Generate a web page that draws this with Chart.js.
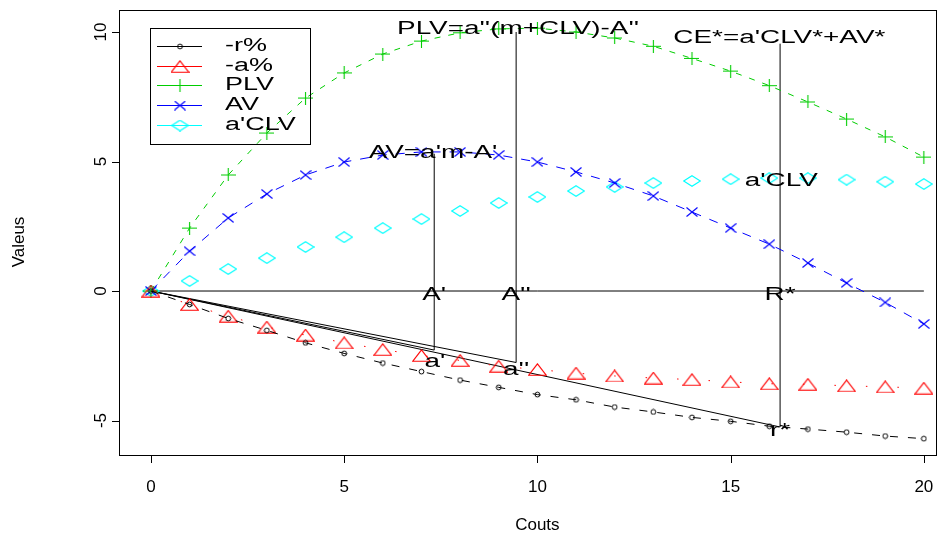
<!DOCTYPE html>
<html><head><meta charset="utf-8">
<script src="https://cdn.jsdelivr.net/npm/chart.js@4.4.1/dist/chart.umd.min.js"></script>
<style>html,body{margin:0;padding:0;background:#fff;}#wrap{width:943px;height:535px;}</style>
</head><body><div id="wrap"><canvas id="c" width="943" height="535"></canvas></div>
<script>
// ---- data ----
const costs = [0,1,2,3,4,5,6,7,8,9,10,11,12,13,14,15,16,17,18,19,20];
const rPct  = [0,-0.52,-1.06,-1.52,-2.0,-2.41,-2.78,-3.11,-3.44,-3.72,-4.0,-4.2,-4.48,-4.67,-4.88,-5.03,-5.22,-5.33,-5.45,-5.6,-5.7];
const aPct  = [0,-0.52,-0.97,-1.39,-1.7,-2.0,-2.26,-2.49,-2.68,-2.9,-3.03,-3.17,-3.28,-3.36,-3.42,-3.51,-3.58,-3.6,-3.66,-3.7,-3.75];
const plv   = [0,2.43,4.48,6.1,7.45,8.42,9.15,9.65,9.97,10.12,10.15,10.0,9.77,9.45,8.98,8.49,7.93,7.3,6.64,5.95,5.17];
const av    = [0,1.54,2.82,3.75,4.48,4.98,5.25,5.37,5.37,5.25,4.98,4.6,4.17,3.67,3.05,2.43,1.81,1.08,0.31,-0.44,-1.27];
const aclv  = [0,0.39,0.85,1.27,1.7,2.08,2.43,2.78,3.09,3.4,3.63,3.86,4.02,4.17,4.25,4.32,4.36,4.36,4.3,4.22,4.13];
const seriesNames = ["-r%","-a%","PLV","AV","a'CLV"];
// reference marks (A', A'', R*)
const markX    = [7.33, 9.45, 16.28];
const markLow  = [-2.28, -2.76, -5.25];
const markHigh = [5.3, 10.0, 9.55];
const zeroLineX = [0, 20];
// annotations
const noteTexts = ["PLV=a''(m+CLV)-A''", "CE*=a'CLV*+AV*", "AV=a'm-A'", "a'CLV", "A'", "A''", "R*", "a'", "a''", "r*"];
const noteX = [9.5, 16.26, 7.3, 16.31, 7.33, 9.45, 16.28, 7.35, 9.45, 16.28];
const noteY = [10.12, 9.77, 5.33, 4.25, -0.17, -0.17, -0.17, -2.74, -3.05, -5.4];
// axes
const xTicks = [0,5,10,15,20];
const yTicks = [-5,0,5,10];
const xTitle = "Couts";
const yTitle = "Valeus";

// ---- styles ----
const colors = ["#000000","#FF0000","#00CD00","#0000FF","#00FFFF"];
const FONT = '17px "Liberation Sans", Arial, sans-serif';

function mk(w,h,draw){const c=document.createElement('canvas');c.width=w;c.height=h;const g=c.getContext('2d');draw(g,w,h);return c;}
const mCircle = mk(7,7,(g)=>{g.strokeStyle=colors[0];g.lineWidth=1;g.beginPath();g.arc(3.5,3.5,2.4,0,Math.PI*2);g.stroke();});
const mTri = mk(19,13,(g,w,h)=>{g.strokeStyle=colors[1];g.lineWidth=1.1;g.beginPath();g.moveTo(w/2,0.8);g.lineTo(w-0.8,h-0.8);g.lineTo(0.8,h-0.8);g.closePath();g.stroke();});
const mPlus = mk(15,13,(g,w,h)=>{g.strokeStyle=colors[2];g.lineWidth=1.1;g.beginPath();g.moveTo(0,6.5);g.lineTo(15,6.5);g.moveTo(7.5,0);g.lineTo(7.5,13);g.stroke();});
const mX = mk(12,10,(g,w,h)=>{g.strokeStyle=colors[3];g.lineWidth=1.1;g.beginPath();g.moveTo(0.5,0.5);g.lineTo(w-0.5,h-0.5);g.moveTo(w-0.5,0.5);g.lineTo(0.5,h-0.5);g.stroke();});
const mDia = mk(18,12,(g,w,h)=>{g.strokeStyle=colors[4];g.lineWidth=1.1;g.beginPath();g.moveTo(w/2,0.7);g.lineTo(w-0.7,h/2);g.lineTo(w/2,h-0.7);g.lineTo(0.7,h/2);g.closePath();g.stroke();});
const markers = [mCircle,mTri,mPlus,mX,mDia];
const dashes = [[8,10],[1.5,30],[6,8],[9,9],[]];
const values = [rPct,aPct,plv,av,aclv];

const pts = (xs,ys)=>xs.map((v,i)=>({x:v,y:ys[i]}));
const datasets = [];
values.forEach((vals,i)=>{
  datasets.push({label:seriesNames[i],data:pts(costs,vals),borderColor:colors[i],borderWidth:1,borderDash:dashes[i],
    showLine:i!==4,pointStyle:markers[i],pointRadius:5,fill:false,tension:0});
});
function seg(x0,y0,x1,y1){return {label:'',data:[{x:x0,y:y0},{x:x1,y:y1}],borderColor:'#000',borderWidth:1,pointRadius:0,showLine:true,fill:false};}
datasets.push(seg(zeroLineX[0],0,zeroLineX[1],0));
markX.forEach((mx,i)=>{
  datasets.push(seg(0,0,mx,markLow[i]));
  datasets.push(seg(mx,markLow[i],mx,markHigh[i]));
});

function sText(ctx,t,x,y,sx,align){ctx.save();ctx.translate(x,y);ctx.scale(sx,1);ctx.textAlign=align||'center';ctx.textBaseline='middle';ctx.fillText(t,0,0);ctx.restore();}

const rStyle = {
  id:'rstyle',
  afterDraw(chart){
    const {ctx, chartArea:a, scales:{x,y}} = chart;
    ctx.save();
    ctx.strokeStyle='#000';ctx.lineWidth=1;
    ctx.strokeRect(a.left+0.5,a.top+0.5,a.right-a.left-1,a.bottom-a.top-1);
    ctx.fillStyle='#000';ctx.font=FONT;
    ctx.beginPath();
    xTicks.forEach(v=>{const px=Math.round(x.getPixelForValue(v))+0.5;ctx.moveTo(px,a.bottom);ctx.lineTo(px,a.bottom+7);});
    yTicks.forEach(v=>{const py=Math.round(y.getPixelForValue(v))+0.5;ctx.moveTo(a.left,py);ctx.lineTo(a.left-7,py);});
    ctx.stroke();
    ctx.textAlign='center';ctx.textBaseline='middle';
    xTicks.forEach(v=>ctx.fillText(String(v),x.getPixelForValue(v),a.bottom+31));
    yTicks.forEach(v=>{ctx.save();ctx.translate(a.left-18,y.getPixelForValue(v));ctx.rotate(-Math.PI/2);ctx.fillText(String(v),0,0);ctx.restore();});
    ctx.fillText(xTitle,(x.getPixelForValue(10)),525);
    ctx.save();ctx.translate(19,242);ctx.rotate(-Math.PI/2);ctx.fillText(yTitle,0,0);ctx.restore();
    ctx.font='18px "Liberation Sans", Arial, sans-serif';
    noteTexts.forEach((t,i)=>sText(ctx,t,x.getPixelForValue(noteX[i]),y.getPixelForValue(noteY[i]),1.55));
    const lx=150, ly=28, lw=160, lh=116;
    ctx.strokeStyle='#000';ctx.lineWidth=1;ctx.strokeRect(lx+0.5,ly+0.5,lw,lh);
    seriesNames.forEach((n,i)=>{
      const ry=Math.round(46+i*19.7)+0.5;
      ctx.strokeStyle=colors[i];ctx.setLineDash([]);ctx.beginPath();ctx.moveTo(157,ry);ctx.lineTo(202,ry);ctx.stroke();
      const m=markers[i];ctx.drawImage(m,180-m.width/2,ry-m.height/2);
      ctx.fillStyle='#000';sText(ctx,n,225,ry,1.5,'left');
    });
    ctx.restore();
  }
};

new Chart(document.getElementById('c'),{
  type:'scatter',
  data:{datasets},
  options:{
    responsive:false,animation:false,devicePixelRatio:1,
    layout:{padding:{left:119,top:10,right:4,bottom:79}},
    plugins:{legend:{display:false},tooltip:{enabled:false}},
    scales:{
      x:{type:'linear',min:-0.826,max:20.34,display:false},
      y:{type:'linear',min:-6.37,max:10.85,display:false}
    }
  },
  plugins:[rStyle]
});
</script></body></html>
